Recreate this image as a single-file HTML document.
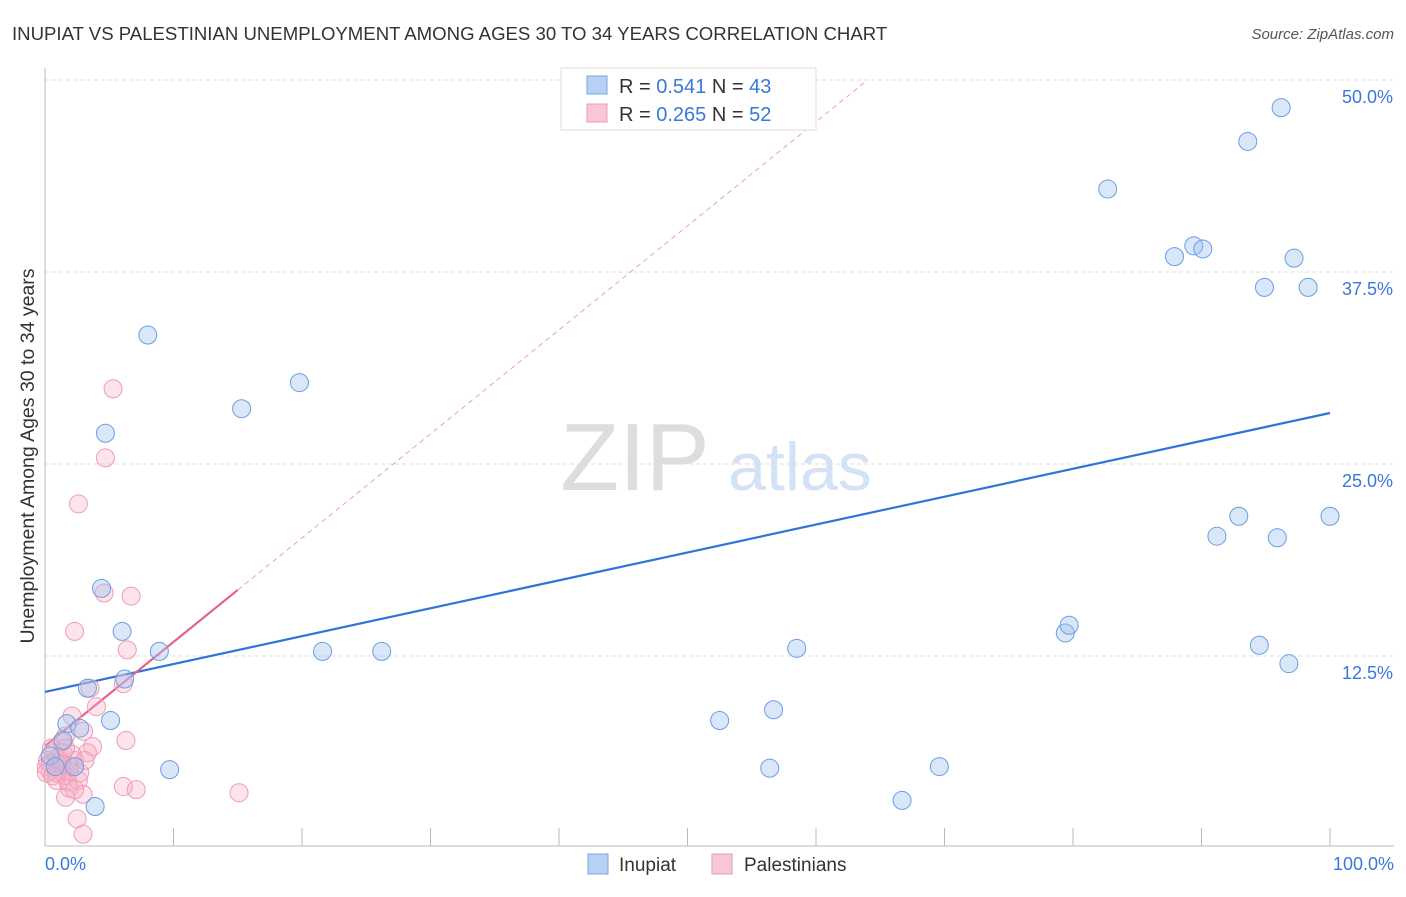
<!DOCTYPE html>
<html><head><meta charset="utf-8"><style>
body{margin:0;background:#fff;font-family:"Liberation Sans",sans-serif;}
svg text{font-family:"Liberation Sans",sans-serif;}
</style></head><body>
<svg width="1406" height="892" xmlns="http://www.w3.org/2000/svg" id="chart">
<text x="12" y="40" font-size="18.6" fill="#333">INUPIAT VS PALESTINIAN UNEMPLOYMENT AMONG AGES 30 TO 34 YEARS CORRELATION CHART</text>
<text x="1394" y="39" font-size="15" fill="#555" font-style="italic" text-anchor="end">Source: ZipAtlas.com</text>
<text x="635" y="490" font-size="96" fill="#ddd" font-family="Liberation Serif" text-anchor="middle">ZIP</text>
<text x="800" y="490" font-size="68" fill="#d3e2f5" text-anchor="middle">atlas</text>
<g id="grid"></g>
<g id="axes"></g>
<g id="trend"></g>
<g id="pts"></g>
<text transform="translate(34,456) rotate(-90)" font-size="19.5" fill="#333" text-anchor="middle">Unemployment Among Ages 30 to 34 years</text>
<text x="45" y="870" font-size="18" fill="#3a78d8">0.0%</text>
<text x="1394" y="870" font-size="18" fill="#3a78d8" text-anchor="end">100.0%</text>
<g>
<rect x="561" y="68" width="255" height="62" fill="#fff" stroke="#ddd"/>
<rect x="587" y="76" width="20" height="18" fill="#b7d0f3" stroke="#7aa6e6"/>
<rect x="587" y="104" width="20" height="18" fill="#f9c6d5" stroke="#ee9ab4"/>
<text x="619" y="93" font-size="20" fill="#333">R = <tspan fill="#3a78d8">0.541</tspan>   N = <tspan fill="#3a78d8">43</tspan></text>
<text x="619" y="121" font-size="20" fill="#333">R = <tspan fill="#3a78d8">0.265</tspan>   N = <tspan fill="#3a78d8">52</tspan></text>
</g>
<g>
<rect x="588" y="854" width="20" height="20" fill="#b7d0f3" stroke="#7aa6e6"/>
<text x="619" y="871" font-size="19" fill="#333">Inupiat</text>
<rect x="712" y="854" width="20" height="20" fill="#f9c6d5" stroke="#ee9ab4"/>
<text x="744" y="871" font-size="19" fill="#333">Palestinians</text>
</g>
</svg>
<script>
const yTicks=[12.5,25,37.5,50];
const yTickLabels=["12.5%","25.0%","37.5%","50.0%"];
const xTicks=[0,10,20,30,40,50,60,70,80,90,100];
const inupiatX=[8.0,4.7,15.3,19.8,4.4,6.0,8.9,3.3,6.2,5.1,1.7,2.7,1.4,2.3,9.7,3.9,21.6,26.2,52.5,56.7,56.4,58.5,66.7,69.6,79.4,79.7,82.7,87.9,89.4,90.1,93.6,96.2,94.9,97.2,98.3,91.2,92.9,95.9,100,94.5,96.8,0.4,0.8];
const inupiatY=[33.4,27.0,28.6,30.3,16.9,14.1,12.8,10.4,11.0,8.3,8.1,7.8,7.0,5.3,5.1,2.7,12.8,12.8,8.3,9.0,5.2,13.0,3.1,5.3,14.0,14.5,42.9,38.5,39.2,39.0,46.0,48.2,36.5,38.4,36.5,20.3,21.6,20.2,21.6,13.2,12.0,6.0,5.3];
const palX=[5.3,2.6,4.7,6.7,4.6,2.3,6.4,3.5,6.1,4.0,2.1,3.0,1.6,1.3,3.7,6.3,3.3,0.5,0.2,0.4,0.8,1.2,1.6,1.9,2.3,1.2,0.9,1.8,1.9,2.6,1.6,2.96,6.1,7.1,15.1,2.5,2.96,1.0,0.7,0.1,0.4,0.1,1.4,2.1,1.9,0.9,2.7,1.3,0.6,1.6,3.1,2.3];
const palY=[29.9,22.4,25.4,16.4,16.6,14.1,12.9,10.4,10.7,9.2,8.6,7.6,7.3,6.9,6.6,7.0,6.2,6.5,5.7,5.0,5.3,5.0,4.7,5.0,5.7,5.7,4.4,4.3,3.9,4.4,3.3,3.5,4.0,3.8,3.6,1.9,0.9,5.9,6.2,5.3,5.5,4.9,6.2,6.1,5.3,4.9,4.9,5.5,4.7,6.5,5.7,3.8];
const blueTrend=[10.16,28.32];
const pinkTrend=[6.64,16.8];
const NS="http://www.w3.org/2000/svg";
const X=v=>45+v*12.85, Y=v=>848-v*15.36;
function mk(t,a,p){const e=document.createElementNS(NS,t);for(const k in a)e.setAttribute(k,a[k]);document.getElementById(p).appendChild(e);return e;}
yTicks.forEach((t,i)=>{
 const l=mk('line',{x1:45,x2:1394,y1:Y(t),y2:Y(t),stroke:'#ddd','stroke-dasharray':'4,3'},'grid');
 
 
 const tx=mk('text',{x:1393,y:Y(t)+23,'font-size':18,fill:'#3a78d8','text-anchor':'end'},'grid');tx.textContent=yTickLabels[i];
 
 
});
const ax=mk('line',{x1:45,x2:45,y1:68,y2:846,stroke:'#bbb'},'axes');


const bx=mk('line',{x1:45,x2:1394,y1:846,y2:846,stroke:'#bbb'},'axes');


xTicks.forEach(t=>{const l=mk('line',{x1:X(t),x2:X(t),y1:828,y2:846,stroke:'#bbb'},'axes');
 
 });
const bt=mk('line',{x1:X(0),y1:Y(blueTrend[0]),x2:X(100),y2:Y(blueTrend[1]),stroke:'#2f74d8','stroke-width':2.2},'trend');


const slope=(pinkTrend[1]-pinkTrend[0])/15;
const xe=(50-pinkTrend[0])/slope;
const pd=mk('line',{x1:X(15),y1:Y(pinkTrend[1]),x2:X(xe),y2:Y(50),stroke:'#eaa0b8','stroke-width':1,'stroke-dasharray':'5,4'},'trend');


const pt=mk('line',{x1:X(0),y1:Y(pinkTrend[0]),x2:X(15),y2:Y(pinkTrend[1]),stroke:'#e6608c','stroke-width':2.2},'trend');


palX.forEach((v,i)=>{const c=mk('circle',{cx:X(v),cy:Y(palY[i]),r:9,fill:'rgba(248,175,198,0.35)',stroke:'#ef9cb8','stroke-width':1},'pts');
 
 });
inupiatX.forEach((v,i)=>{const c=mk('circle',{cx:X(v),cy:Y(inupiatY[i]),r:9,fill:'rgba(160,196,240,0.4)',stroke:'#6a9fe2','stroke-width':1},'pts');
 
 });
</script>
</body></html>
